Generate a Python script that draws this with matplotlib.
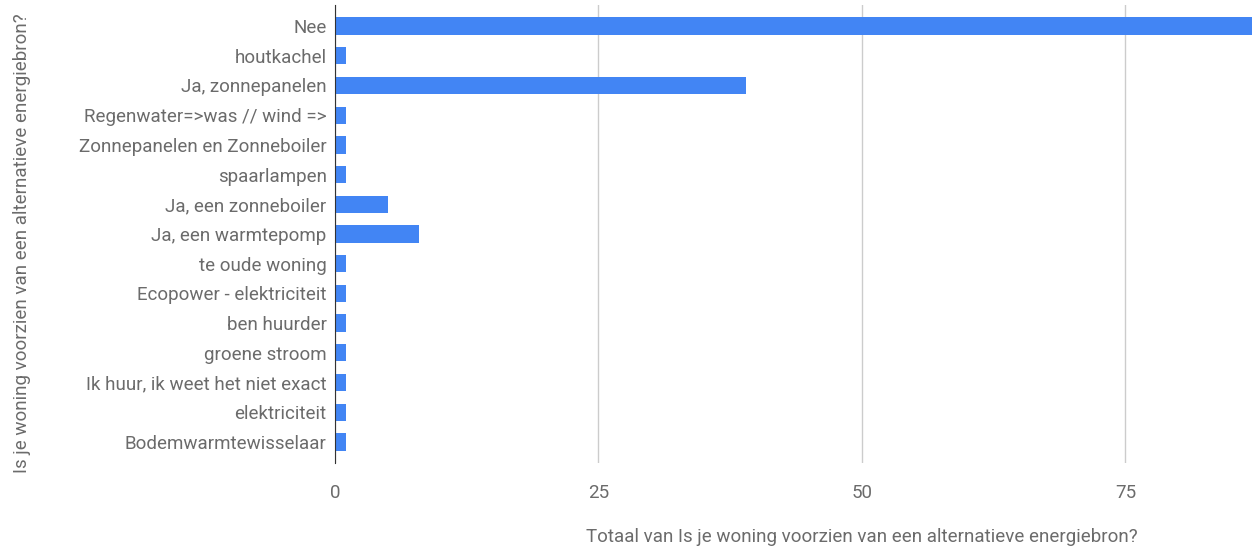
import numpy as np
import matplotlib.pyplot as plt

plt.rcParams['font.family'] = ['Roboto', 'DejaVu Sans']

categories = ["Nee", "houtkachel", "Ja, zonnepanelen", "Regenwater=>was // wind =>",
              "Zonnepanelen en Zonneboiler", "spaarlampen", "Ja, een zonneboiler",
              "Ja, een warmtepomp", "te oude woning", "Ecopower - elektriciteit",
              "ben huurder", "groene stroom", "Ik huur, ik weet het niet exact",
              "elektriciteit", "Bodemwarmtewisselaar"]
counts = [87, 1, 39, 1, 1, 1, 5, 8, 1, 1, 1, 1, 1, 1, 1]
xticks = [0, 25, 50, 75]

grey = "#6b6b6b"
fs = 13.5

fig = plt.figure(figsize=(12.6, 5.49), dpi=100)
ax = fig.add_axes([335 / 1260, 1 - 463 / 549, (1253 - 335) / 1260, 458 / 549])

y = np.arange(len(categories))
ax.barh(y, counts, height=0.58, color="#4285F4", zorder=3)
ax.set_ylim(len(categories) - 1 + 0.71, -0.71)
ax.set_xlim(0, 87.1)
ax.set_yticks(y)
ax.set_yticklabels(categories, fontsize=fs, color=grey)
ax.set_xticks(xticks)
ax.set_xticklabels([str(t) for t in xticks], fontsize=fs, color=grey)
ax.tick_params(axis="both", length=0)
ax.tick_params(axis="y", pad=6)
ax.tick_params(axis="x", pad=15)
ax.grid(axis="x", color="#cccccc", linewidth=1, zorder=0)
for s in ["top", "right", "bottom"]:
    ax.spines[s].set_visible(False)
ax.spines["left"].set_color("#333333")
ax.spines["left"].set_zorder(4)

fig.text(862 / 1260, 1 - 537 / 549, "Totaal van Is je woning voorzien van een alternatieve energiebron?",
         ha="center", va="center", fontsize=fs, color=grey)
fig.text(22 / 1260, 1 - 243 / 549, "Is je woning voorzien van een alternatieve energiebron?",
         ha="center", va="center", rotation=90, fontsize=fs, color=grey)

fig.savefig("out.png", dpi=100)
